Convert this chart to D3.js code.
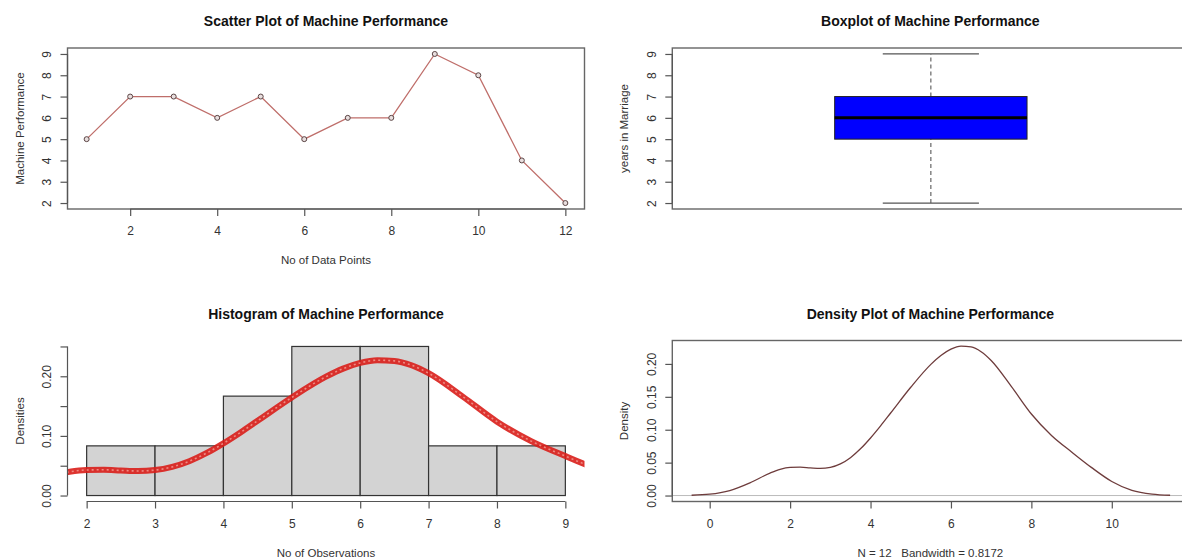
<!DOCTYPE html>
<html>
<head>
<meta charset="utf-8">
<script src="https://d3js.org/d3.v7.min.js"></script>
<style>
  body { margin: 0; background: #fff; }
  svg { display: block; font-family: "Liberation Sans", Arial, sans-serif; }
  .title { font-size: 14px; font-weight: bold; fill: #111; }
  .lab { font-size: 11.5px; fill: #333; white-space: pre; }
  .axis text { font-size: 12px; fill: #333; font-family: "Liberation Sans", Arial, sans-serif; }
  .axis line, .axis path { stroke: #555; stroke-width: 1.2; }
</style>
</head>
<body>
<svg width="1182" height="559"></svg>
<script>
// machine performance readings, observation 1..12
const obsIndex = [1, 2, 3, 4, 5, 6, 7, 8, 9, 10, 11, 12];
const performance = [5, 7, 7, 6, 7, 5, 6, 6, 9, 8, 4, 2];

// boxplot: lower whisker, Q1, median, Q3, upper whisker
const boxStats = [2, 5, 6, 7, 9];

// histogram bins and densities
const histBreaks = [2, 3, 4, 5, 6, 7, 8, 9];
const histDensity = [0.0833, 0.0833, 0.1667, 0.25, 0.25, 0.0833, 0.0833];

// kernel density curve
const densX = [-0.45, 0, 0.5, 1, 1.5, 1.75, 2, 2.25, 2.5, 2.75, 3, 3.25, 3.5, 3.75, 4, 4.25, 4.5, 5, 5.5, 5.75, 6, 6.25, 6.5, 6.75, 7, 7.5, 8, 8.5, 9, 9.5, 10, 10.5, 11, 11.45];
const densY = [0.00045, 0.0020, 0.0076, 0.0193, 0.0341, 0.0398, 0.0428, 0.0432, 0.0421, 0.0412, 0.0427, 0.0480, 0.0575, 0.0710, 0.0875, 0.1059, 0.1254, 0.1645, 0.1993, 0.2128, 0.2224, 0.2270, 0.2258, 0.2185, 0.2052, 0.1659, 0.1239, 0.0913, 0.0662, 0.0424, 0.0214, 0.0079, 0.0021, 0.00045];

const scatterTicksX = [2, 4, 6, 8, 10, 12];
const perfTicks = [2, 3, 4, 5, 6, 7, 8, 9];
const histTicksX = [2, 3, 4, 5, 6, 7, 8, 9];
const histTicksY = [0, 0.05, 0.10, 0.15, 0.20, 0.25];
const densTicksX = [0, 2, 4, 6, 8, 10];
const densTicksY = [0, 0.05, 0.10, 0.15, 0.20];

const svg = d3.select("svg");
const dens = densX.map((x, i) => ({x: x, y: densY[i]}));

// plot regions
const leftX = [67.5, 584.5], rightX = [672.3, 1189.4];
const topY = [209, 48], bottomY = [501.5, 340.5];

function yAxis(g, scale, ticks, fmt, x0) {
  const ax = g.append("g").attr("class", "axis")
    .attr("transform", `translate(${x0},0)`)
    .call(d3.axisLeft(scale).tickValues(ticks).tickSize(7).tickFormat(fmt));
  ax.select(".domain").remove();
  ax.append("line")
    .attr("y1", scale(ticks[0])).attr("y2", scale(ticks[ticks.length - 1]));
  ax.selectAll("text")
    .attr("x", 0).attr("y", -21).attr("dy", "0.35em")
    .attr("transform", "rotate(-90)")
    .style("text-anchor", "middle");
  return ax;
}

function xAxis(g, scale, ticks, y0) {
  const ax = g.append("g").attr("class", "axis")
    .attr("transform", `translate(0,${y0})`)
    .call(d3.axisBottom(scale).tickValues(ticks).tickSize(7).tickFormat(d3.format("d")));
  ax.select(".domain").remove();
  ax.append("line")
    .attr("x1", scale(ticks[0])).attr("x2", scale(ticks[ticks.length - 1]));
  ax.selectAll("text").attr("y", 22).attr("dy", "0.35em");
  return ax;
}

function frame(xr, yr) {
  svg.append("rect")
    .attr("x", xr[0]).attr("y", yr[1])
    .attr("width", xr[1] - xr[0]).attr("height", yr[0] - yr[1])
    .attr("fill", "none").attr("stroke", "#666").attr("stroke-width", 1.4);
}

function texts(title, ty, xlab, xly, ylab, ylx, cx, cy) {
  svg.append("text").attr("class", "title").attr("x", cx).attr("y", ty)
    .attr("text-anchor", "middle").attr("dy", "0.35em").text(title);
  if (xlab) svg.append("text").attr("class", "lab").attr("x", cx).attr("y", xly)
    .attr("text-anchor", "middle").attr("dy", "0.35em").text(xlab);
  svg.append("text").attr("class", "lab")
    .attr("transform", `translate(${ylx},${cy}) rotate(-90)`)
    .attr("text-anchor", "middle").attr("dy", "0.35em").text(ylab);
}

// ---- scatter plot ----
{
  const x = d3.scaleLinear().domain([0.56, 12.44]).range(leftX);
  const y = d3.scaleLinear().domain([1.72, 9.28]).range(topY);
  const pts = obsIndex.map((d, i) => ({x: d, y: performance[i]}));
  svg.append("path").datum(pts)
    .attr("fill", "none").attr("stroke", "#bf6e6a").attr("stroke-width", 1.3)
    .attr("d", d3.line().x(d => x(d.x)).y(d => y(d.y)));
  svg.selectAll(".pt").data(pts).enter().append("circle")
    .attr("class", "pt")
    .attr("cx", d => x(d.x)).attr("cy", d => y(d.y)).attr("r", 2.5)
    .attr("fill", "#e8dede").attr("stroke", "#5b4545").attr("stroke-width", 1);
  frame(leftX, topY);
  yAxis(svg, y, perfTicks, d3.format("d"), leftX[0]);
  xAxis(svg, x, scatterTicksX, topY[0]);
  texts("Scatter Plot of Machine Performance", 21, "No of Data Points", 260,
        "Machine Performance", 19.5, (leftX[0] + leftX[1]) / 2, (topY[0] + topY[1]) / 2);
}

// ---- boxplot ----
{
  const x = d3.scaleLinear().domain([0.5, 1.5]).range(rightX);
  const y = d3.scaleLinear().domain([1.72, 9.28]).range(topY);
  const boxHalf = 0.186, capHalf = 0.093;
  const g = svg.append("g");
  g.append("line").attr("x1", x(1)).attr("x2", x(1))
    .attr("y1", y(boxStats[0])).attr("y2", y(boxStats[1]))
    .attr("stroke", "#666").attr("stroke-width", 1.2).attr("stroke-dasharray", "4,3");
  g.append("line").attr("x1", x(1)).attr("x2", x(1))
    .attr("y1", y(boxStats[3])).attr("y2", y(boxStats[4]))
    .attr("stroke", "#666").attr("stroke-width", 1.2).attr("stroke-dasharray", "4,3");
  [boxStats[0], boxStats[4]].forEach(v => {
    g.append("line").attr("x1", x(1 - capHalf)).attr("x2", x(1 + capHalf))
      .attr("y1", y(v)).attr("y2", y(v))
      .attr("stroke", "#555").attr("stroke-width", 1.2);
  });
  g.append("rect")
    .attr("x", x(1 - boxHalf)).attr("y", y(boxStats[3]))
    .attr("width", x(1 + boxHalf) - x(1 - boxHalf))
    .attr("height", y(boxStats[1]) - y(boxStats[3]))
    .attr("fill", "#0000ff").attr("stroke", "#222").attr("stroke-width", 1);
  g.append("line").attr("x1", x(1 - boxHalf)).attr("x2", x(1 + boxHalf))
    .attr("y1", y(boxStats[2])).attr("y2", y(boxStats[2]))
    .attr("stroke", "#000").attr("stroke-width", 3);
  frame(rightX, topY);
  yAxis(svg, y, perfTicks, d3.format("d"), rightX[0]);
  texts("Boxplot of Machine Performance", 21, null, 0,
        "years in Marriage", 624, (rightX[0] + rightX[1]) / 2 - 0.5, (topY[0] + topY[1]) / 2);
}

// ---- histogram ----
{
  const x = d3.scaleLinear().domain([1.72, 9.28]).range(leftX);
  const y = d3.scaleLinear().domain([-0.01, 0.26]).range(bottomY);
  const bins = histDensity.map((d, i) => ({x0: histBreaks[i], x1: histBreaks[i + 1], d: d}));
  svg.selectAll(".bar").data(bins).enter().append("rect")
    .attr("class", "bar")
    .attr("x", d => x(d.x0)).attr("y", d => y(d.d))
    .attr("width", d => x(d.x1) - x(d.x0))
    .attr("height", d => y(0) - y(d.d))
    .attr("fill", "#d3d3d3").attr("stroke", "#333").attr("stroke-width", 1.2);
  svg.append("clipPath").attr("id", "clipH").append("rect")
    .attr("x", leftX[0]).attr("y", bottomY[1]).attr("width", leftX[1] - leftX[0]).attr("height", bottomY[0] - bottomY[1]);
  const line = d3.line().x(d => x(d.x)).y(d => y(d.y)).curve(d3.curveMonotoneX);
  const cg = svg.append("g").attr("clip-path", "url(#clipH)");
  cg.append("path").datum(dens).attr("d", line)
    .attr("fill", "none").attr("stroke", "#d91e1a").attr("stroke-width", 6).attr("stroke-opacity", 0.9);
  cg.append("path").datum(dens).attr("d", line)
    .attr("fill", "none").attr("stroke", "#ee8a82").attr("stroke-width", 1.6)
    .attr("stroke-dasharray", "2,3");
  const fmt = (d, i) => i % 2 === 0 ? d3.format(".2f")(d) : "";
  yAxis(svg, y, histTicksY, fmt, leftX[0]);
  xAxis(svg, x, histTicksX, bottomY[0]);
  texts("Histogram of Machine Performance", 314, "No of Observations", 553,
        "Densities", 19.5, (leftX[0] + leftX[1]) / 2, (bottomY[0] + bottomY[1]) / 2);
}

// ---- density plot ----
{
  const x = d3.scaleLinear().domain([-0.93, 11.93]).range(rightX);
  const y = d3.scaleLinear().domain([-0.00906, 0.2356]).range(bottomY);
  svg.append("line").attr("x1", rightX[0]).attr("x2", rightX[1])
    .attr("y1", y(0)).attr("y2", y(0)).attr("stroke", "#bbb").attr("stroke-width", 1);
  svg.append("path").datum(dens)
    .attr("fill", "none").attr("stroke", "#6e3c3c").attr("stroke-width", 1.3)
    .attr("d", d3.line().x(d => x(d.x)).y(d => y(d.y)).curve(d3.curveMonotoneX));
  frame(rightX, bottomY);
  yAxis(svg, y, densTicksY, d3.format(".2f"), rightX[0]);
  xAxis(svg, x, densTicksX, bottomY[0]);
  texts("Density Plot of Machine Performance", 314, "N = 12   Bandwidth = 0.8172", 553,
        "Density", 624, (rightX[0] + rightX[1]) / 2 - 0.5, (bottomY[0] + bottomY[1]) / 2);
}
</script>
</body>
</html>
